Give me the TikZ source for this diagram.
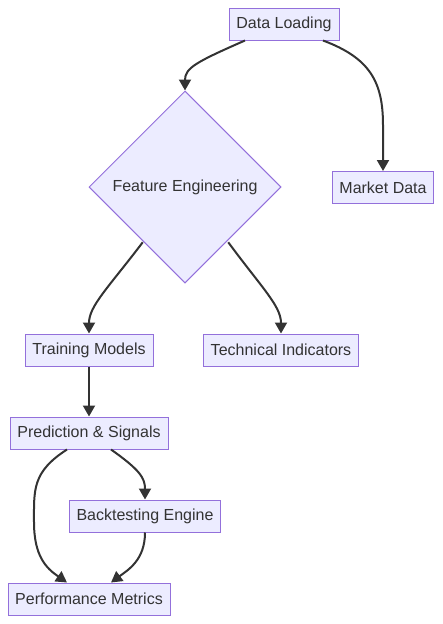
\documentclass[tikz,border=0pt]{standalone}
\usepackage{fontspec}
\setmainfont{Liberation Sans}
\usetikzlibrary{shapes.geometric}
\usetikzlibrary{arrows.meta}

\definecolor{boxfill}{HTML}{ECECFF}
\definecolor{boxline}{HTML}{9370DB}
\definecolor{ink}{HTML}{333333}

\tikzset{
  stepbox/.style={draw=boxline,fill=boxfill,line width=1pt,minimum height=32pt,inner sep=0pt,text=ink,font=\fontsize{16pt}{19pt}\selectfont},
  choice/.style={diamond,draw=boxline,fill=boxfill,line width=1pt,minimum width=192pt,minimum height=192pt,inner sep=0pt,text=ink,font=\fontsize{16pt}{19pt}\selectfont},
  flow/.style={draw=ink,line width=2pt,-{Triangle[length=11pt,width=12pt]}}
}

\begin{document}
\begin{tikzpicture}[x=1pt,y=-1pt]
\useasboundingbox (0,0) rectangle (442,624);
\node (dl) [stepbox,minimum width=110pt] at (284,24) {Data Loading};
\node (fe) [choice] at (185,187) {Feature Engineering};
\node (md) [stepbox,minimum width=101pt] at (383,187.5) {Market Data};
\node (tm) [stepbox,minimum width=128pt] at (89,350) {Training Models};
\node (ti) [stepbox,minimum width=155pt] at (281,350) {Technical Indicators};
\node (ps) [stepbox,minimum width=158pt] at (89,433) {Prediction \& Signals};
\node (be) [stepbox,minimum width=151pt] at (145,516) {Backtesting Engine};
\node (pm) [stepbox,minimum width=162pt] at (89,599) {Performance Metrics};
% edges
\draw[flow] ([xshift=-39pt]dl.south) .. controls (196,62) and (185,68) .. (fe.north);
\draw[flow] ([xshift=39pt]dl.south) .. controls (370,58) and (383,82) .. (383,125) -- (md.north);
\draw[flow] (fe.south west) ++(6,7) .. controls (108,288) and (89,306) .. (tm.north);
\draw[flow] (fe.south east) ++(-5,7) .. controls (262,288) and (281,306) .. (ti.north);
\draw[flow] (tm.south) -- (ps.north);
\draw[flow] ([xshift=22pt]ps.south) .. controls (140,470) and (145,478) .. (be.north);
\draw[flow] ([xshift=-22pt]ps.south) .. controls (32,472) and (34,490) .. (34,522) .. controls (34,556) and (46,568) .. ([xshift=-22pt]pm.north);
\draw[flow] (be.south) .. controls (145,560) and (128,570) .. ([xshift=22pt]pm.north);
\end{tikzpicture}
\end{document}
